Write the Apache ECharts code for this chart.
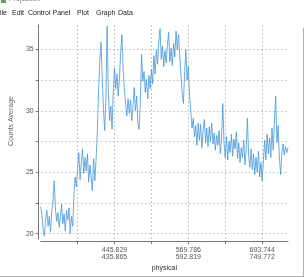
<!DOCTYPE html>
<html>
<head>
<meta charset="utf-8">
<script src="https://cdn.jsdelivr.net/npm/echarts@6/dist/echarts.min.js"></script>
<style>
  html, body { margin: 0; padding: 0; background: #fff; }
  #chart { width: 305px; height: 277px; }
</style>
</head>
<body>
<div id="chart"></div>
<script>
// counts average per channel
var counts = [
  22.2, 21.5, 20.3, 19.8, 21.2, 21.9, 20.6, 21.4, 20.1, 21.8,
  22.6, 24.3, 22.0, 21.0, 21.7, 20.5, 21.3, 22.4, 20.8, 21.6,
  20.2, 21.9, 21.1, 22.1, 20.0, 21.4, 20.6, 23.0, 24.6, 23.8,
  25.3, 26.6, 24.4, 25.8, 26.9, 24.9, 26.2, 25.1, 26.5, 24.2,
  25.6, 24.6, 23.5, 26.1, 24.3, 26.0, 28.2, 31.5, 34.0, 35.6,
  32.8, 30.2, 28.4, 31.0, 36.9, 31.4, 29.2, 30.4, 28.5, 31.6,
  33.5, 31.8, 33.0, 31.2, 32.6, 34.8, 36.2, 33.5, 31.8, 30.6,
  29.6, 31.0, 29.8, 30.9, 29.2, 30.4, 31.9, 30.0, 31.2, 29.0,
  28.5, 30.8, 34.6, 32.4, 33.2, 31.5, 32.6, 31.0, 32.9, 31.8,
  33.4, 32.2, 34.5, 33.0, 35.0, 33.8, 35.6, 36.7, 34.2, 35.3,
  33.6, 34.9, 33.9, 35.4, 36.4, 34.0, 35.1, 33.7, 35.5, 34.4,
  36.5, 35.0, 36.2, 34.6, 33.0, 31.4, 30.6, 33.2, 35.0, 32.5,
  33.6, 31.2, 30.0, 28.6, 29.4, 27.9, 28.8, 27.2, 29.0, 27.6,
  28.9, 27.0, 28.4, 29.3, 27.4, 28.6, 27.1, 28.7, 27.5, 29.0,
  27.3, 28.2, 26.8, 28.0, 27.2, 28.4, 26.5, 27.8, 30.6, 27.4,
  26.2, 27.9, 26.0, 27.5, 26.6, 28.1, 26.3, 27.7, 26.9, 28.3,
  26.1, 27.4, 25.8, 27.0, 26.2, 27.6, 25.6, 26.8, 29.4, 26.4,
  25.4, 26.9, 25.2, 26.5, 24.8, 26.2, 25.0, 26.7, 24.6, 25.8,
  24.3, 25.9, 27.6, 26.0, 28.1, 26.5, 27.8, 26.2, 28.6, 26.8,
  29.2, 31.2, 27.4, 28.8, 26.2, 24.8, 26.6, 27.3, 26.4, 27.1,
  26.6, 27.0
];

// x axis: two label rows at the major ticks
var majorIdx = [60, 120, 180];
var labelTop = ['445.829', '569.786', '693.744'];
var labelBottom = ['435.865', '592.819', '749.772'];

var yLabels = [20, 25, 30, 35];
var yGrid = [20, 22.5, 25, 27.5, 30, 32.5, 35];

var channels = counts.map(function (v, i) { return i; });
var font = 'Liberation Sans';
var gridStyle = { color: '#c8c8c8', type: [2, 2], width: 1 };

function menu(text, x) {
  return { type: 'text', left: x, top: 10, style: { text: text, fontSize: 7, fill: '#222', fontFamily: font } };
}

var chart = echarts.init(document.getElementById('chart'), null, { renderer: 'canvas' });
chart.setOption({
  animation: false,
  grid: { left: 25, right: 17, top: 25, bottom: 35.3, containLabel: false },
  xAxis: {
    type: 'category',
    data: channels,
    boundaryGap: false,
    offset: 2,
    name: 'physical',
    nameLocation: 'middle',
    nameGap: 21,
    nameTextStyle: { fontSize: 7, color: '#333', fontFamily: font },
    axisLine: { lineStyle: { color: '#777', width: 1 } },
    axisTick: {
      length: 3,
      lineStyle: { color: '#777' },
      interval: function (i) { return i > 0 && i % 30 === 0; }
    },
    axisLabel: {
      fontSize: 7,
      color: '#555',
      lineHeight: 7,
      margin: 5,
      fontFamily: font,
      interval: function (i) { return majorIdx.indexOf(i) >= 0; },
      formatter: function (v, i) {
        var k = majorIdx.indexOf(i);
        return k >= 0 ? labelTop[k] + '\n' + labelBottom[k] : '';
      }
    },
    splitLine: {
      show: true,
      lineStyle: gridStyle,
      interval: function (i) { return i > 0 && i % 30 === 0; }
    }
  },
  yAxis: {
    type: 'value',
    min: 19.55,
    max: 37,
    offset: 2,
    name: 'Counts Average',
    nameLocation: 'middle',
    nameGap: 19,
    nameTextStyle: { fontSize: 7, color: '#666', fontFamily: font, padding: [0, 0, 0, 22] },
    axisLine: { show: true, lineStyle: { color: '#777', width: 1 } },
    axisTick: { show: true, length: 3, lineStyle: { color: '#777' }, customValues: yGrid },
    axisLabel: { fontSize: 7, color: '#555', margin: 5, fontFamily: font, customValues: yLabels },
    splitLine: { show: true, lineStyle: gridStyle }
  },
  series: [{
    type: 'line',
    data: counts,
    symbol: 'none',
    lineStyle: { color: '#4596da', width: 0.8 },
    itemStyle: { color: '#4596da' }
  }],
  graphic: [
    { type: 'text', left: 9, top: -4, style: { text: 'Projection', fontSize: 7, fill: '#777', fontFamily: font } },
    { type: 'rect', shape: { x: 1, y: 0, width: 5, height: 3 }, style: { fill: '#6a9f5a' } },
    menu('ile', 0),
    menu('Edit', 12),
    menu('Control Panel', 28),
    menu('Plot', 77),
    menu('Graph', 96),
    menu('Data', 118),
    { type: 'line', shape: { x1: 303.5, y1: 28, x2: 303.5, y2: 276 }, style: { stroke: '#b0b0b0', lineWidth: 1 } },
    { type: 'line', shape: { x1: 0, y1: 276.5, x2: 304, y2: 276.5 }, style: { stroke: '#b0b0b0', lineWidth: 1 } }
  ]
});
</script>
</body>
</html>
